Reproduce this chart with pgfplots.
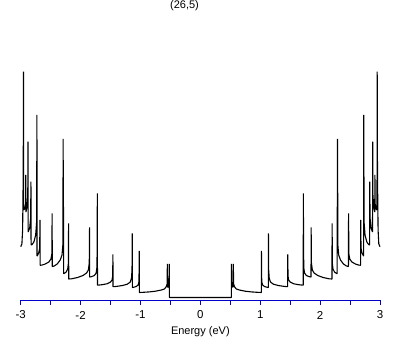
\documentclass[border=0pt]{standalone}
\usepackage{fontspec}
\setmainfont{Liberation Sans}
\usepackage{pgfplots}
\pgfplotsset{compat=1.18}
\definecolor{axblue}{RGB}{0,0,200}
\pgfplotstableread{
E v
-3.000 53.3
-2.980 56
-2.968 70
-2.958 125
-2.953 228.3
-2.950 90
-2.935 91
-2.919 96
-2.915 125
-2.912 88
-2.895 93
-2.882 105
-2.878 158.3
-2.875 68
-2.850 72
-2.834 82
-2.829 118.3
-2.827 55
-2.810 55.5
-2.780 58
-2.750 65
-2.734 78
-2.729 185
-2.727 44
-2.720 44.5
-2.700 47
-2.683 52
-2.678 80
-2.676 34.7
-2.640 35
-2.590 36
-2.530 38
-2.495 41
-2.480 46
-2.475 86.7
-2.473 33.5
-2.440 34
-2.390 36
-2.340 40
-2.310 45
-2.296 55
-2.291 161
-2.288 70
-2.285 93
-2.283 26.3
-2.270 26.7
-2.240 28
-2.215 31
-2.205 36
-2.200 76.7
-2.198 21
-2.150 21.2
-2.050 22.5
-1.960 24.5
-1.900 27
-1.870 30
-1.855 37
-1.850 72.7
-1.848 23
-1.820 23.3
-1.770 24.5
-1.740 27
-1.728 32
-1.724 46.7
-1.720 106.7
-1.718 14.8
-1.640 15.3
-1.560 16.2
-1.500 18
-1.475 20
-1.464 24
-1.460 45.7
-1.458 13.3
-1.400 13.6
-1.300 14.5
-1.220 15.8
-1.170 18
-1.150 22
-1.141 30
-1.137 66.7
-1.135 12.5
-1.110 12.8
-1.070 13.5
-1.040 15
-1.025 18
-1.020 49
-1.018 7.5
-0.950 7.7
-0.850 8.1
-0.750 8.8
-0.650 10
-0.600 11
-0.570 13.3
-0.555 16
-0.551 36
-0.548 13
-0.535 13
-0.524 15
-0.520 36
-0.518 2.5
0.000 2.5
0.518 2.5
0.520 36
0.524 15
0.535 13
0.548 13
0.551 36
0.555 16
0.570 13.3
0.600 11
0.650 10
0.750 8.8
0.850 8.1
0.950 7.7
1.018 7.5
1.020 49
1.025 18
1.040 15
1.070 13.5
1.110 12.8
1.135 12.5
1.137 66.7
1.141 30
1.150 22
1.170 18
1.220 15.8
1.300 14.5
1.400 13.6
1.458 13.3
1.460 45.7
1.464 24
1.475 20
1.500 18
1.560 16.2
1.640 15.3
1.718 14.8
1.720 106.7
1.724 46.7
1.728 32
1.740 27
1.770 24.5
1.820 23.3
1.848 23
1.850 72.7
1.855 37
1.870 30
1.900 27
1.960 24.5
2.050 22.5
2.150 21.2
2.198 21
2.200 76.7
2.205 36
2.215 31
2.240 28
2.270 26.7
2.283 26.3
2.285 93
2.288 70
2.291 161
2.296 55
2.310 45
2.340 40
2.390 36
2.440 34
2.473 33.5
2.475 86.7
2.480 46
2.495 41
2.530 38
2.590 36
2.640 35
2.676 34.7
2.678 80
2.683 52
2.700 47
2.720 44.5
2.727 44
2.729 185
2.734 78
2.750 65
2.780 58
2.810 55.5
2.827 55
2.829 118.3
2.834 82
2.850 72
2.875 68
2.878 158.3
2.882 105
2.895 93
2.912 88
2.915 125
2.919 96
2.935 91
2.950 90
2.953 228.3
2.958 125
2.968 70
2.980 56
3.000 53.3
}\dos
\begin{document}
\fontsize{11}{13}\selectfont
\begin{tikzpicture}
\path[use as bounding box] (0pt,0pt) rectangle (409pt,345pt);
\begin{axis}[
  at={(20.7pt,45pt)}, anchor=south west,
  scale only axis, width=359.3pt, height=240pt,
  xmin=-3, xmax=3, ymin=0, ymax=240,
  axis x line=bottom, axis y line=none,
  x axis line style={-, axblue, line width=0.9pt},
  xtick={-3,...,3}, xticklabels={-3,-2,-1,0,1,2,3},
  minor x tick num=1,
  tick align=outside,
  major tick length=5pt, minor tick length=5pt,
  every tick/.style={axblue, line width=0.9pt},
  xticklabel style={font=\fontsize{11.5}{13}\selectfont, anchor=center, yshift=-10pt},
  xlabel={Energy (eV)},
  xlabel style={at={(0.5,-0.132)}, anchor=center, font=\fontsize{11}{13}\selectfont},
  title={(26,5)},
  title style={at={(0.456,1.2)}, anchor=center, inner sep=0pt, font=\fontsize{11}{13}\selectfont},
  clip=false,
]
\addplot[black, line width=1.1pt, line join=bevel] table[x=E, y=v] {\dos};
\end{axis}
\end{tikzpicture}
\end{document}
